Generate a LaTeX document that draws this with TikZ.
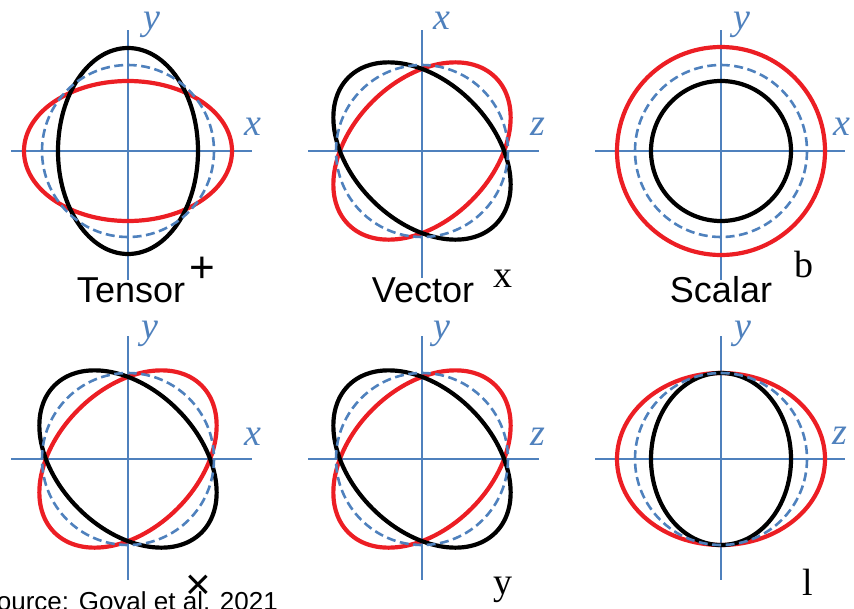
\documentclass[tikz,border=0pt]{standalone}
\usepackage{fontspec}
\setmainfont{Liberation Serif}
\setsansfont{Liberation Sans}

\definecolor{axisblue}{RGB}{79,129,189}
\definecolor{ringred}{RGB}{236,30,36}

\begin{document}
\begin{tikzpicture}[x=1pt, y=-1pt,
    axisline/.style={draw=axisblue, line width=1.8pt},
    restring/.style={draw=axisblue, line width=2.6pt, dash pattern=on 9pt off 4.5pt},
    stretched/.style={draw=ringred, line width=4.2pt},
    squeezed/.style={draw=black, line width=4.2pt},
    axlabel/.style={text=axisblue, inner sep=0pt, anchor=base, font=\fontsize{38}{38}\selectfont\itshape},
    modename/.style={inner sep=0pt, anchor=base, font=\fontsize{36}{36}\selectfont\sffamily},
    polname/.style={inner sep=0pt, anchor=base, font=\fontsize{38}{38}\selectfont},
    polmark/.style={inner sep=0pt, font=\fontsize{44}{44}\selectfont\sffamily}]

    % page frame (the source line runs off the left and bottom edge)
    \path[use as bounding box, clip] (0,0) rectangle (854,608);

    % centres of the six panels (screen pixels, y downwards)
    \coordinate (Tp) at (128,151);  % tensor +
    \coordinate (Vx) at (422,151);  % vector x
    \coordinate (Sb) at (721,151);  % scalar b
    \coordinate (Tc) at (128,459);  % tensor x
    \coordinate (Vy) at (422,459);  % vector y
    \coordinate (Sl) at (721,459);  % scalar l

    % 1. Tensor, plus mode
    \begin{scope}[shift={(Tp)}]
        \draw[axisline] (-117,0) -- (124,0);
        \draw[axisline] (0,-121) -- (0,129);
        \draw[stretched] (0,0) ellipse [x radius=104, y radius=70];
        \draw[squeezed] (0,0) ellipse [x radius=70, y radius=103];
        \draw[restring] (0,0) circle (86);
        \node[axlabel] (TpY) at (24,-122) {y};
        \node[axlabel] (TpX) at (125,-16) {x};
    \end{scope}

    % 2. Vector, x mode
    \begin{scope}[shift={(Vx)}]
        \draw[axisline] (-114,0) -- (117,0);
        \draw[axisline] (0,-121) -- (0,127);
        \draw[stretched, rotate=45] (0,0) ellipse [x radius=104, y radius=70];
        \draw[squeezed, rotate=-45] (0,0) ellipse [x radius=104, y radius=70];
        \draw[restring] (0,0) circle (86);
        \node[axlabel] (VxX) at (20,-122) {x};
        \node[axlabel] (VxZ) at (116,-16) {z};
    \end{scope}

    % 3. Scalar, breathing mode
    \begin{scope}[shift={(Sb)}]
        \draw[axisline] (-126,0) -- (124,0);
        \draw[axisline] (0,-121) -- (0,129);
        \draw[stretched] (0,0) circle (104);
        \draw[squeezed] (0,0) circle (70);
        \draw[restring] (0,0) circle (86);
        \node[axlabel] (SbY) at (21,-122) {y};
        \node[axlabel] (SbX) at (121,-16) {x};
    \end{scope}

    % 4. Tensor, cross mode
    \begin{scope}[shift={(Tc)}]
        \draw[axisline] (-117,0) -- (124,0);
        \draw[axisline] (0,-123) -- (0,121);
        \draw[stretched, rotate=45] (0,0) ellipse [x radius=104, y radius=70];
        \draw[squeezed, rotate=-45] (0,0) ellipse [x radius=104, y radius=70];
        \draw[restring] (0,0) circle (86);
        \node[axlabel] (TcY) at (22,-121) {y};
        \node[axlabel] (TcX) at (125,-14) {x};
    \end{scope}

    % 5. Vector, y mode
    \begin{scope}[shift={(Vy)}]
        \draw[axisline] (-114,0) -- (117,0);
        \draw[axisline] (0,-123) -- (0,121);
        \draw[stretched, rotate=45] (0,0) ellipse [x radius=104, y radius=70];
        \draw[squeezed, rotate=-45] (0,0) ellipse [x radius=104, y radius=70];
        \draw[restring] (0,0) circle (86);
        \node[axlabel] (VyY) at (20,-121) {y};
        \node[axlabel] (VyZ) at (116,-14) {z};
    \end{scope}

    % 6. Scalar, longitudinal mode
    \begin{scope}[shift={(Sl)}]
        \draw[axisline] (-126,0) -- (124,0);
        \draw[axisline] (0,-123) -- (0,121);
        \draw[stretched] (0,0) ellipse [x radius=104, y radius=86];
        \draw[squeezed] (0,0) ellipse [x radius=70, y radius=86];
        \draw[restring] (0,0) circle (86);
        \node[axlabel] (SlY) at (22,-121) {y};
        \node[axlabel] (SlZ) at (119,-15) {z};
    \end{scope}

    % mode names and polarisation marks
    \node[modename] (tensor) at (131,302) {Tensor};
    \node[modename] (vector) at (423,302) {Vector};
    \node[modename] (scalar) at (721,302) {Scalar};

    \node[polmark] (plus) at (202,270) {+};
    \node[polname] (polx) at (503,287) {x};
    \node[polname] (polb) at (804,277) {b};
    \node[polname] (poly) at (503,594) {y};
    \node[polname] (poll) at (808,595) {l};

    % source line, cut by the page edge
    \node[inner sep=0pt, anchor=base east, font=\fontsize{26}{26}\selectfont\sffamily] (source) at (278,610) {Source: Goyal et al. 2021};
    \node[polmark] (cross) at (198,587) {×};

\end{tikzpicture}
\end{document}
